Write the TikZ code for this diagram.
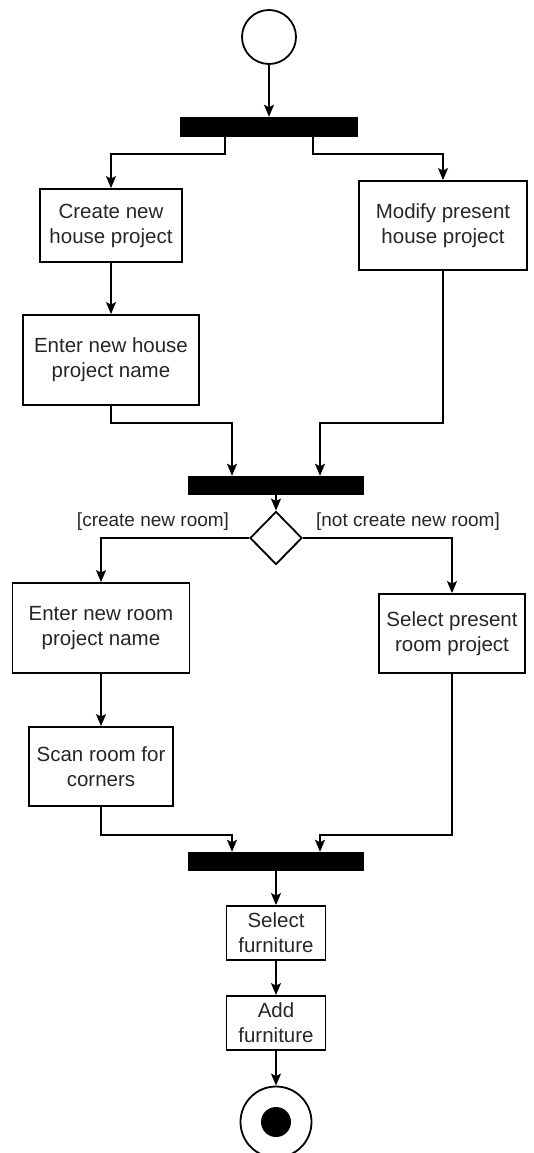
\documentclass[tikz,border=0pt]{standalone}
\usepackage{fontspec}
\setmainfont{Liberation Sans}
\usetikzlibrary{shapes.geometric,arrows.meta}
\begin{document}
\begin{tikzpicture}[
        x=1pt, y=-1pt,
        every node/.style={font=\fontsize{20.5}{25}\selectfont, text=black!85},
        actionNode/.style={rectangle, draw, line width=1.8pt, align=center, inner sep=0pt},
        barNode/.style={rectangle, fill=black, inner sep=0pt, minimum width=176pt, minimum height=19pt},
        startNode/.style={circle, draw, line width=1.8pt, minimum size=54pt, inner sep=0pt},
        decisionNode/.style={diamond, draw, line width=1.8pt, minimum width=52pt, minimum height=53pt, inner sep=0pt},
        guardLabel/.style={font=\fontsize{19}{23}\selectfont},
        flowArrow/.style={line width=1.8pt, -{Stealth[length=12pt, width=10pt, inset=2.5pt]}}
    ]
        \useasboundingbox (0,0) rectangle (533,1153);

        % Start and first fork
        \node[startNode] (start) at (269,37) {};
        \node[barNode, minimum width=178pt, minimum height=20pt] (bar1) at (269,127) {};

        % House project actions
        \node[actionNode, minimum width=142pt, minimum height=73pt] (create) at (111,225.5) {Create new\\house project};
        \node[actionNode, minimum width=168pt, minimum height=89pt] (modify) at (443,225.5) {Modify present\\house project};
        \node[actionNode, minimum width=176pt, minimum height=90pt] (house) at (111,360) {Enter new house\\project name};

        % Join and decision
        \node[barNode] (bar2) at (276,485.5) {};
        \node[decisionNode] (dec) at (276,538) {};
        \node[guardLabel] (lblCreate) at (153,522) {[create new room]};
        \node[guardLabel] (lblNot) at (408,522) {[not create new room]};

        % Room project actions
        \node[actionNode, minimum width=177pt, minimum height=90pt] (newroom) at (101,628) {Enter new room\\project name};
        \node[actionNode, minimum width=146pt, minimum height=79pt] (selroom) at (452,633.5) {Select present\\room project};
        \node[actionNode, minimum width=144pt, minimum height=79pt] (scan) at (101,766.5) {Scan room for\\corners};

        % Last join, furniture, end
        \node[barNode] (bar3) at (276,861.5) {};
        \node[actionNode, minimum width=99pt, minimum height=54pt] (selfurn) at (276,933) {Select\\furniture};
        \node[actionNode, minimum width=99pt, minimum height=54pt] (addfurn) at (276,1023) {Add\\furniture};
        \node[startNode, minimum size=71pt] (end) at (276,1122) {};
        \node[circle, fill=black, minimum size=30pt, inner sep=0pt] (endDot) at (end.center) {};

        % Edges
        \draw[flowArrow] (start) -- (bar1);
        \draw[flowArrow] ([xshift=-44pt]bar1.south) -- ++(0,17) -| (create.north);
        \draw[flowArrow] ([xshift=44pt]bar1.south) -- ++(0,17) -| (modify.north);
        \draw[flowArrow] (create) -- (house);
        \draw[flowArrow] (house.south) -- ++(0,17) -| ([xshift=-44pt]bar2.north);
        \draw[flowArrow] (modify.south) -- ++(0,152) -| ([xshift=44pt]bar2.north);
        \draw[flowArrow] (bar2) -- (dec);
        \draw[flowArrow] (dec.west) -| (newroom.north);
        \draw[flowArrow] (dec.east) -| (selroom.north);
        \draw[flowArrow] (newroom) -- (scan);
        \draw[flowArrow] (scan.south) -- ++(0,28) -| ([xshift=-44pt]bar3.north);
        \draw[flowArrow] (selroom.south) -- ++(0,161) -| ([xshift=44pt]bar3.north);
        \draw[flowArrow] (bar3) -- (selfurn);
        \draw[flowArrow] (selfurn) -- (addfurn);
        \draw[flowArrow] (addfurn) -- (end);
    \end{tikzpicture}
\end{document}
